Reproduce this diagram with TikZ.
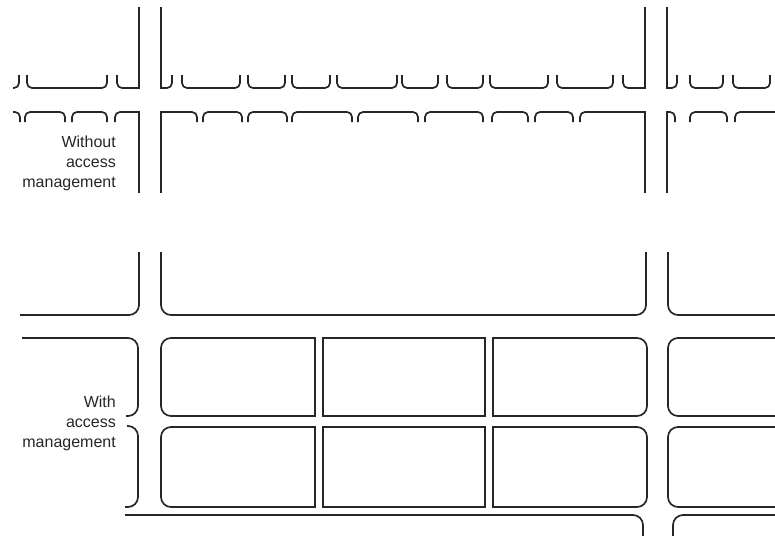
\documentclass[tikz,border=0pt]{standalone}
\usepackage{fontspec}
\setmainfont{Liberation Sans}
\begin{document}
\begin{tikzpicture}[x=1pt,y=-1pt,
  ln/.style={draw=black!85, line width=1.7pt},
  curb/.style={ln, rounded corners=5pt},
  road/.style={ln, rounded corners=10pt},
  blk/.style={ln, line cap=rect},
  lbl/.style={anchor=east, align=right, inner sep=0pt, font=\fontsize{16}{20}\selectfont, text=black!85}]
\useasboundingbox (0,0) rectangle (775,535);
\clip (0,0) rectangle (775,535);
% ---------- top: without access management ----------
% road edges above and below the crossing
\foreach \x in {139,161,645,667}{
  \draw[blk] (\x,8) -- (\x,88);
  \draw[blk] (\x,112) -- (\x,192);
}
% upper curb
\draw[curb] (13,88) -- (19,88) -- (19,75);
\foreach \a/\b in {27/107,182/240,248/285,292/330,337/397,402/438,447/483,490/548,557/613,690/723,733/770}
  \draw[curb] (\a,75) -- (\a,88) -- (\b,88) -- (\b,75);
\draw[curb] (117,75) -- (117,88) -- (139,88);
\draw[curb] (161,88) -- (172,88) -- (172,75);
\draw[curb] (623,75) -- (623,88) -- (645,88);
\draw[curb] (667,88) -- (677,88) -- (677,75);
% lower curb
\draw[curb] (13,112) -- (20,112) -- (20,122);
\foreach \a/\b in {25/65,72/107,203/242,248/287,292/352,358/418,425/483,492/528,535/573,690/727}
  \draw[curb] (\a,122) -- (\a,112) -- (\b,112) -- (\b,122);
\draw[curb] (115,122) -- (115,112) -- (139,112);
\draw[curb] (161,112) -- (197,112) -- (197,122);
\draw[curb] (580,122) -- (580,112) -- (645,112);
\draw[curb] (667,112) -- (675,112) -- (675,122);
\draw[curb] (735,122) -- (735,112) -- (785,112);
\node[lbl] (wo) at (116,163) {Without\\access\\management};
% ---------- middle ----------
\draw[road] (20,315) -- (139,315) -- (139,252);
\draw[road] (161,252) -- (161,315) -- (646,315) -- (646,252);
\draw[road] (668,252) -- (668,315) -- (790,315);
% ---------- bottom: with access management ----------
\draw[road] (22,338) -- (138,338) -- (138,416) -- (126,416);
\draw[road] (127,426) -- (138,426) -- (138,507) -- (125,507);
\draw[road] (125,515) -- (643,515) -- (643,545);
\draw[road] (673,545) -- (673,515) -- (790,515);
% blocks, row 1 and row 2
\foreach \t/\u in {338/416,427/507}{
  \draw[road] (315,\t) -- (161,\t) -- (161,\u) -- (315,\u);
  \draw[blk] (315,\t) -- (315,\u);
  \draw[blk] (323,\t) rectangle (485,\u);
  \draw[road] (493,\t) -- (647,\t) -- (647,\u) -- (493,\u);
  \draw[blk] (493,\t) -- (493,\u);
  \draw[road] (790,\t) -- (668,\t) -- (668,\u) -- (790,\u);
}
\node[lbl] (wi) at (116,423) {With\\access\\management};
\end{tikzpicture}
\end{document}
